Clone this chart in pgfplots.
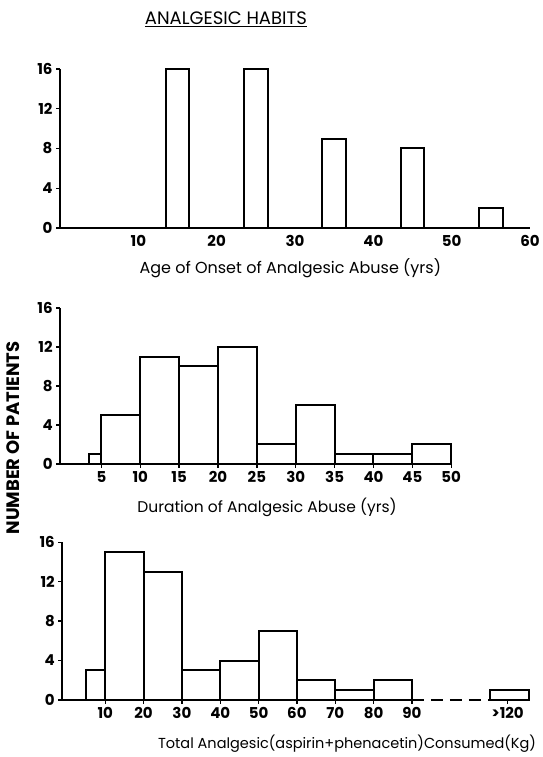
\documentclass[border=0pt]{standalone}
\usepackage{fontspec}
\setmainfont{Poppins}
\usepackage{pgfplots}
\pgfplotsset{compat=1.18}

\pgfplotsset{
  hist/.style={
    scale only axis, anchor=south west,
    axis lines=left, axis line style={-, line width=1.7pt},
    ymin=0, ymax=16, ytick={0,4,8,12,16},
    tick align=outside, major tick length=4pt,
    tick style={line width=1.3pt, black},
    tick label style={font=\fontsize{15}{15}\selectfont\bfseries},
    /pgf/number format/assume math mode=true,
    clip=false,
    xlabel style={font=\fontsize{16}{16}\selectfont, anchor=center},
  },
  histbar/.style={draw=black, fill=white, line width=2pt},
}

\begin{document}
\begin{tikzpicture}
\path[use as bounding box] (0,0) rectangle (543pt,757pt);

% age of onset
\begin{axis}[hist, at={(60pt,529pt)}, width=470pt, height=159pt,
  xmin=0, xmax=60, xtick={10,20,...,60}, xtick style={draw=none},
  xlabel={Age of Onset of Analgesic Abuse (yrs)},
  xlabel style={at={(axis description cs:0.49,-0.25)}},
  title={\underline{ANALGESIC HABITS}},
  title style={at={(axis description cs:0.353,1.24)}, anchor=base, yshift=0pt,
    font=\fontsize{18}{18}\selectfont},
]
\addplot[histbar, ybar, bar width=3, bar shift=0pt] coordinates {(15,16)(25,16)(35,9)(45,8)(55,2)};
\end{axis}

% duration
\begin{axis}[hist, at={(60.2pt,293pt)}, width=391pt, height=156pt,
  xmin=-0.3, xmax=50, xtick={5,10,...,50},
  xlabel={Duration of Analgesic Abuse (yrs)},
  xlabel style={at={(axis description cs:0.529,-0.276)},
    font=\fontsize{15.5}{15.5}\selectfont},
  ylabel={NUMBER OF PATIENTS},
  ylabel style={at={(axis description cs:-0.121,0.167)}, anchor=center,
    font=\fontsize{18}{18}\selectfont\bfseries},
]
\addplot[histbar, ybar interval] coordinates {(3.4,1)(5,5)(10,11)(15,10)(20,12)(25,2)(30,6)(35,1)(40,1)(45,2)(50,0)};
\end{axis}

% total consumed
\begin{axis}[hist, at={(62.3pt,57pt)}, width=466.5pt, height=157.7pt,
  xmin=-1.2, xmax=120.5, xtick={10,20,...,90,115},
  xticklabels={10,20,30,40,50,60,70,80,90,>120},
  x axis line style={draw=none},
  xlabel={Total Analgesic(aspirin+phenacetin)Consumed(Kg)},
  xlabel style={at={(axis description cs:1.023,-0.28)}, anchor=east,
    font=\fontsize{14.5}{14.5}\selectfont},
]
\addplot[line width=1.7pt] coordinates {(-1.2,0)(90,0)};
\addplot[line width=1.4pt, dash pattern=on 12pt off 7pt] coordinates {(90,0)(110.5,0)};
\addplot[histbar, ybar interval] coordinates {(5,3)(10,15)(20,13)(30,3)(40,4)(50,7)(60,2)(70,1)(80,2)(90,0)};
\addplot[histbar, ybar interval] coordinates {(110.5,1)(120.5,0)};
\end{axis}
\end{tikzpicture}
\end{document}
